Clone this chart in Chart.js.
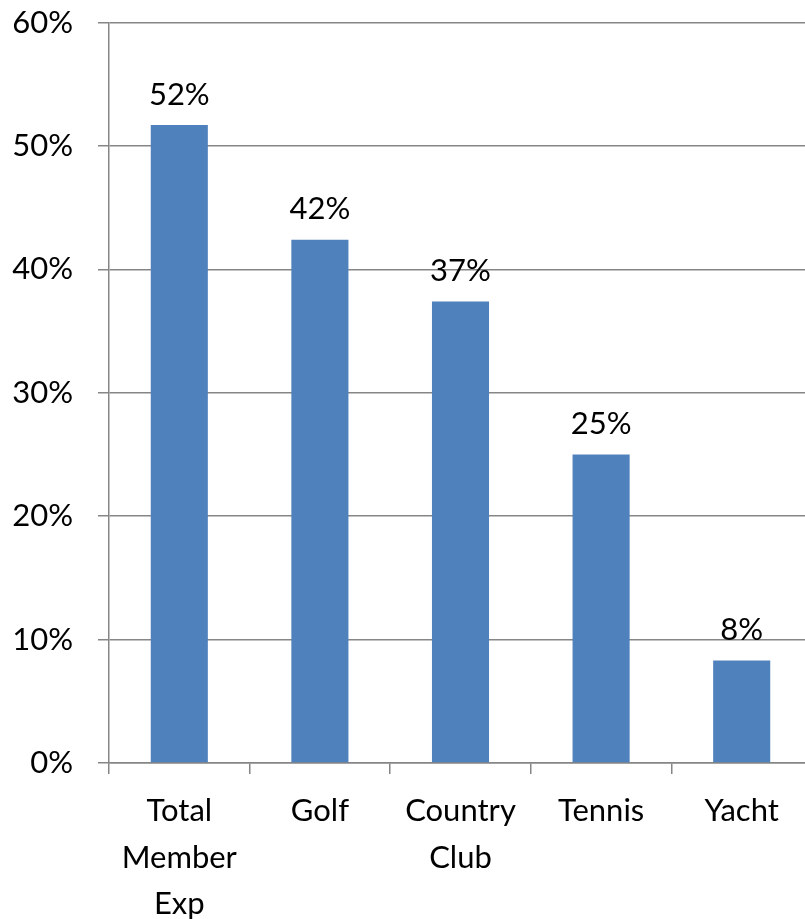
<!DOCTYPE html>
<html>
<head>
<meta charset="utf-8">
<script src="https://cdn.jsdelivr.net/npm/chart.js@4"></script>
<style>
  html, body { margin: 0; padding: 0; background: #fff; overflow: hidden; }
  #wrap { width: 812px; height: 919px; overflow: hidden; }
  #chart { display: block; margin-top: -21px; }
</style>
</head>
<body>
<div id="wrap"><canvas id="chart" width="812" height="940"></canvas></div>
<script>
const categories = [['Total', 'Member', 'Exp'], 'Golf', ['Country', 'Club'], 'Tennis', 'Yacht'];
const values = [51.7, 42.4, 37.4, 25.0, 8.3];
const valueLabels = ['52%', '42%', '37%', '25%', '8%'];

const font = 'Lato, "Open Sans", sans-serif';

// draws the % labels above each bar
const barLabels = {
    id: 'barLabels',
    afterDatasetsDraw(chart) {
        const ctx = chart.ctx;
        const meta = chart.getDatasetMeta(0);
        ctx.save();
        ctx.font = '31px ' + font;
        ctx.fillStyle = '#000';
        ctx.textAlign = 'center';
        ctx.textBaseline = 'bottom';
        meta.data.forEach((bar, i) => {
            ctx.fillText(valueLabels[i], bar.x, bar.y - 15);
        });
        ctx.restore();
    }
};

new Chart(document.getElementById('chart'), {
    type: 'bar',
    data: {
        labels: categories,
        datasets: [{
            data: values,
            backgroundColor: '#4F81BD',
            barPercentage: 0.406,
            categoryPercentage: 1
        }]
    },
    options: {
        responsive: false,
        animation: false,
        layout: { padding: { top: 3, right: 0, left: 0, bottom: 0 } },
        plugins: { legend: { display: false }, tooltip: { enabled: false } },
        scales: {
            x: {
                grid: { display: true, drawOnChartArea: false, offset: true, color: '#868686', tickLength: 11, lineWidth: 1.5 },
                border: { color: '#868686', width: 1.5 },
                ticks: { color: '#000', font: { family: font, size: 31, lineHeight: 1.5 }, padding: 14, maxRotation: 0, autoSkip: false },
                afterFit(scale) { scale.height = 156; }
            },
            y: {
                min: 0,
                max: 60,
                grid: { color: '#868686', tickLength: 11, lineWidth: 1.5 },
                border: { color: '#868686', width: 1.5 },
                ticks: {
                    stepSize: 10,
                    color: '#000',
                    padding: 25,
                    font: { family: font, size: 31 },
                    callback: v => v + '%'
                },
                afterFit(scale) { scale.width = 109; }
            }
        }
    },
    plugins: [barLabels]
});
</script>
</body>
</html>
